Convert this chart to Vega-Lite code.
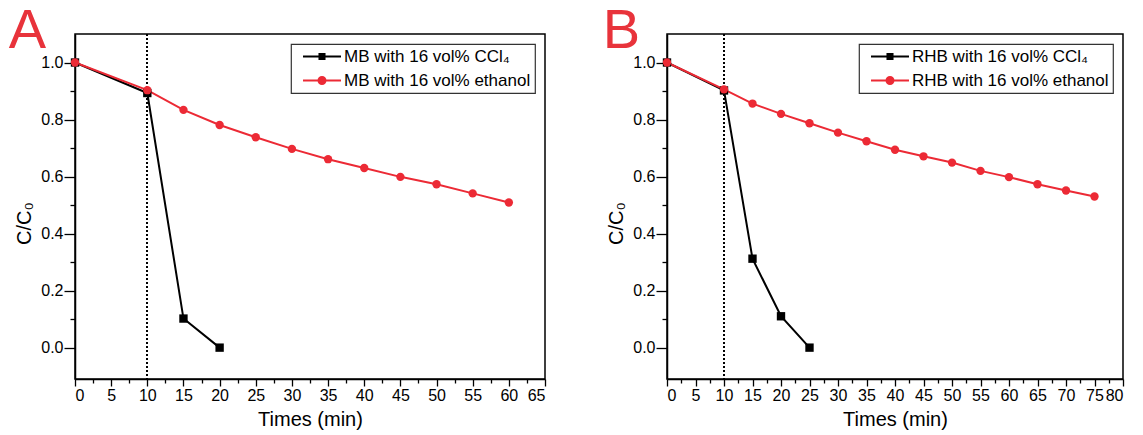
{
  "$schema": "https://vega.github.io/schema/vega-lite/v6.json",
  "background": "white",
  "padding": {"left": 8, "top": 2, "right": 5, "bottom": 5},
  "datasets": {
    "d": [
      {"panel": "A", "series": "MB with 16 vol% CCl₄", "time": 0, "value": 1.0},
      {"panel": "A", "series": "MB with 16 vol% CCl₄", "time": 10, "value": 0.893},
      {"panel": "A", "series": "MB with 16 vol% CCl₄", "time": 15, "value": 0.102},
      {"panel": "A", "series": "MB with 16 vol% CCl₄", "time": 20, "value": 0.0},
      {"panel": "A", "series": "MB with 16 vol% ethanol", "time": 0, "value": 1.0},
      {"panel": "A", "series": "MB with 16 vol% ethanol", "time": 10, "value": 0.903},
      {"panel": "A", "series": "MB with 16 vol% ethanol", "time": 15, "value": 0.834},
      {"panel": "A", "series": "MB with 16 vol% ethanol", "time": 20, "value": 0.781},
      {"panel": "A", "series": "MB with 16 vol% ethanol", "time": 25, "value": 0.738},
      {"panel": "A", "series": "MB with 16 vol% ethanol", "time": 30, "value": 0.697},
      {"panel": "A", "series": "MB with 16 vol% ethanol", "time": 35, "value": 0.661},
      {"panel": "A", "series": "MB with 16 vol% ethanol", "time": 40, "value": 0.630},
      {"panel": "A", "series": "MB with 16 vol% ethanol", "time": 45, "value": 0.599},
      {"panel": "A", "series": "MB with 16 vol% ethanol", "time": 50, "value": 0.573},
      {"panel": "A", "series": "MB with 16 vol% ethanol", "time": 55, "value": 0.541},
      {"panel": "A", "series": "MB with 16 vol% ethanol", "time": 60, "value": 0.509},
      {"panel": "B", "series": "RHB with 16 vol% CCl₄", "time": 0, "value": 1.0},
      {"panel": "B", "series": "RHB with 16 vol% CCl₄", "time": 10, "value": 0.902},
      {"panel": "B", "series": "RHB with 16 vol% CCl₄", "time": 15, "value": 0.312},
      {"panel": "B", "series": "RHB with 16 vol% CCl₄", "time": 20, "value": 0.110},
      {"panel": "B", "series": "RHB with 16 vol% CCl₄", "time": 25, "value": 0.0},
      {"panel": "B", "series": "RHB with 16 vol% ethanol", "time": 0, "value": 1.0},
      {"panel": "B", "series": "RHB with 16 vol% ethanol", "time": 10, "value": 0.906},
      {"panel": "B", "series": "RHB with 16 vol% ethanol", "time": 15, "value": 0.856},
      {"panel": "B", "series": "RHB with 16 vol% ethanol", "time": 20, "value": 0.820},
      {"panel": "B", "series": "RHB with 16 vol% ethanol", "time": 25, "value": 0.787},
      {"panel": "B", "series": "RHB with 16 vol% ethanol", "time": 30, "value": 0.754},
      {"panel": "B", "series": "RHB with 16 vol% ethanol", "time": 35, "value": 0.724},
      {"panel": "B", "series": "RHB with 16 vol% ethanol", "time": 40, "value": 0.694},
      {"panel": "B", "series": "RHB with 16 vol% ethanol", "time": 45, "value": 0.671},
      {"panel": "B", "series": "RHB with 16 vol% ethanol", "time": 50, "value": 0.649},
      {"panel": "B", "series": "RHB with 16 vol% ethanol", "time": 55, "value": 0.620},
      {"panel": "B", "series": "RHB with 16 vol% ethanol", "time": 60, "value": 0.598},
      {"panel": "B", "series": "RHB with 16 vol% ethanol", "time": 65, "value": 0.573},
      {"panel": "B", "series": "RHB with 16 vol% ethanol", "time": 70, "value": 0.551},
      {"panel": "B", "series": "RHB with 16 vol% ethanol", "time": 75, "value": 0.530}
    ]
  },
  "config": {
    "font": "Liberation Sans",
    "view": {"stroke": "black", "strokeWidth": 1.5},
    "axis": {
      "grid": false,
      "domainColor": "black",
      "domainWidth": 1.5,
      "tickColor": "black",
      "tickWidth": 1.3,
      "labelColor": "black",
      "labelFont": "Liberation Sans",
      "labelFontSize": 16,
      "titleColor": "black",
      "titleFont": "Liberation Sans",
      "titleFontSize": 20,
      "titleFontWeight": "normal"
    },
    "axisX": {"tickSize": 7, "labelPadding": 1, "titlePadding": 6},
    "axisY": {"tickSize": 11, "labelPadding": 1, "titlePadding": 6},
    "legend": {
      "orient": "top-right",
      "offset": 10,
      "padding": 4,
      "strokeColor": "#333",
      "strokeWidth": 1.2,
      "labelFont": "Liberation Sans",
      "labelFontSize": 17,
      "labelColor": "black",
      "labelLimit": 400,
      "labelOffset": 13.5,
      "symbolOffset": 18.5,
      "symbolSize": 225,
      "symbolStrokeWidth": 1.8,
      "rowPadding": 6,
      "title": null
    }
  },
  "spacing": 55,
  "resolve": {
    "scale": {"x": "independent", "y": "independent", "color": "independent", "stroke": "independent", "shape": "independent"},
    "legend": {"color": "independent", "stroke": "independent", "shape": "independent"}
  },
  "hconcat": [
    {
      "width": 470,
      "height": 345,
      "title": {"text": "A", "anchor": "start", "frame": "bounds", "fontSize": 56, "font": "Liberation Sans", "fontWeight": "normal", "color": "#e8333b", "offset": -27, "dx": -6},
      "data": {"name": "d"},
      "transform": [{"filter": "datum.panel === 'A'"}],
      "resolve": {"scale": {"shape": "independent", "stroke": "independent"}, "legend": {"shape": "independent", "stroke": "independent"}, "axis": {"x": "independent", "y": "independent"}},
      "layer": [
        {
          "mark": {"type": "line", "strokeWidth": 2},
          "encoding": {
            "x": {"field": "time", "type": "quantitative", "scale": {"domain": [0, 65], "nice": false, "zero": false}, "axis": {"values": [0,5,10,15,20,25,30,35,40,45,50,55,60,65], "title": "Times (min)"}},
            "y": {"field": "value", "type": "quantitative", "scale": {"domain": [-0.11, 1.1], "nice": false, "zero": false}, "axis": {"values": [0,0.2,0.4,0.6,0.8,1.0], "format": ".1f", "title": "C/C₀", "titleY": 189}},
            "color": {"field": "series", "type": "nominal", "scale": {"domain": ["MB with 16 vol% CCl₄", "MB with 16 vol% ethanol"], "range": ["black", "#ec2a35"]}, "legend": null},
            "order": {"field": "time"}
          }
        },
        {
          "mark": {"type": "rule", "strokeDash": [2, 2], "strokeWidth": 1.2, "color": "black"},
          "encoding": {"x": {"datum": 10, "type": "quantitative", "axis": null}}
        },
        {
          "mark": {"type": "point", "filled": true, "opacity": 1, "size": 70},
          "encoding": {
            "x": {"field": "time", "type": "quantitative", "axis": {"values": [2.5,7.5,12.5,17.5,22.5,27.5,32.5,37.5,42.5,47.5,52.5,57.5,62.5], "labels": false, "tickSize": 4, "domain": false, "title": null, "orient": "bottom"}},
            "y": {"field": "value", "type": "quantitative", "axis": {"values": [0.1,0.3,0.5,0.7,0.9], "labels": false, "tickSize": 5, "domain": false, "title": null, "orient": "left"}},
            "color": {"field": "series", "type": "nominal", "legend": null},
            "shape": {"field": "series", "type": "nominal", "scale": {"domain": ["MB with 16 vol% CCl₄", "MB with 16 vol% ethanol"], "range": ["square", "circle"]}, "legend": null}
          }
        },
        {
          "mark": {"type": "point", "filled": false, "size": 0, "opacity": 1, "strokeWidth": 1.8},
          "encoding": {
            "x": {"field": "time", "type": "quantitative", "axis": null},
            "y": {"field": "value", "type": "quantitative", "axis": null},
            "stroke": {"field": "series", "type": "nominal", "scale": {"domain": ["MB with 16 vol% CCl₄", "MB with 16 vol% ethanol"], "range": ["black", "#ec2a35"]}},
            "shape": {"field": "series", "type": "nominal", "scale": {"domain": ["MB with 16 vol% CCl₄", "MB with 16 vol% ethanol"], "range": ["M-2.53,0H2.53M-0.35,-0.35H0.35V0.35H-0.35ZM-0.35,-0.12H0.35M-0.35,0.12H0.35", "M-2.53,0H2.53M0.48,0A0.48,0.48 0 1,1 -0.48,0A0.48,0.48 0 1,1 0.48,0M0.24,0A0.24,0.24 0 1,1 -0.24,0A0.24,0.24 0 1,1 0.24,0"]}}
          }
        }
      ]
    },
    {
      "width": 456,
      "height": 345,
      "title": {"text": "B", "anchor": "start", "frame": "bounds", "fontSize": 56, "font": "Liberation Sans", "fontWeight": "normal", "color": "#e8333b", "offset": -27, "dx": -4},
      "data": {"name": "d"},
      "transform": [{"filter": "datum.panel === 'B'"}],
      "resolve": {"scale": {"shape": "independent", "stroke": "independent"}, "legend": {"shape": "independent", "stroke": "independent"}, "axis": {"x": "independent", "y": "independent"}},
      "layer": [
        {
          "mark": {"type": "line", "strokeWidth": 2},
          "encoding": {
            "x": {"field": "time", "type": "quantitative", "scale": {"domain": [0, 80], "nice": false, "zero": false}, "axis": {"values": [0,5,10,15,20,25,30,35,40,45,50,55,60,65,70,75,80], "title": "Times (min)"}},
            "y": {"field": "value", "type": "quantitative", "scale": {"domain": [-0.11, 1.1], "nice": false, "zero": false}, "axis": {"values": [0,0.2,0.4,0.6,0.8,1.0], "format": ".1f", "title": "C/C₀", "titleY": 189}},
            "color": {"field": "series", "type": "nominal", "scale": {"domain": ["RHB with 16 vol% CCl₄", "RHB with 16 vol% ethanol"], "range": ["black", "#ec2a35"]}, "legend": null},
            "order": {"field": "time"}
          }
        },
        {
          "mark": {"type": "rule", "strokeDash": [2, 2], "strokeWidth": 1.2, "color": "black"},
          "encoding": {"x": {"datum": 10, "type": "quantitative", "axis": null}}
        },
        {
          "mark": {"type": "point", "filled": true, "opacity": 1, "size": 70},
          "encoding": {
            "x": {"field": "time", "type": "quantitative", "axis": {"values": [2.5,7.5,12.5,17.5,22.5,27.5,32.5,37.5,42.5,47.5,52.5,57.5,62.5,67.5,72.5,77.5], "labels": false, "tickSize": 4, "domain": false, "title": null, "orient": "bottom"}},
            "y": {"field": "value", "type": "quantitative", "axis": {"values": [0.1,0.3,0.5,0.7,0.9], "labels": false, "tickSize": 5, "domain": false, "title": null, "orient": "left"}},
            "color": {"field": "series", "type": "nominal", "legend": null},
            "shape": {"field": "series", "type": "nominal", "scale": {"domain": ["RHB with 16 vol% CCl₄", "RHB with 16 vol% ethanol"], "range": ["square", "circle"]}, "legend": null}
          }
        },
        {
          "mark": {"type": "point", "filled": false, "size": 0, "opacity": 1, "strokeWidth": 1.8},
          "encoding": {
            "x": {"field": "time", "type": "quantitative", "axis": null},
            "y": {"field": "value", "type": "quantitative", "axis": null},
            "stroke": {"field": "series", "type": "nominal", "scale": {"domain": ["RHB with 16 vol% CCl₄", "RHB with 16 vol% ethanol"], "range": ["black", "#ec2a35"]}},
            "shape": {"field": "series", "type": "nominal", "scale": {"domain": ["RHB with 16 vol% CCl₄", "RHB with 16 vol% ethanol"], "range": ["M-2.53,0H2.53M-0.35,-0.35H0.35V0.35H-0.35ZM-0.35,-0.12H0.35M-0.35,0.12H0.35", "M-2.53,0H2.53M0.48,0A0.48,0.48 0 1,1 -0.48,0A0.48,0.48 0 1,1 0.48,0M0.24,0A0.24,0.24 0 1,1 -0.24,0A0.24,0.24 0 1,1 0.24,0"]}}
          }
        }
      ]
    }
  ]
}
